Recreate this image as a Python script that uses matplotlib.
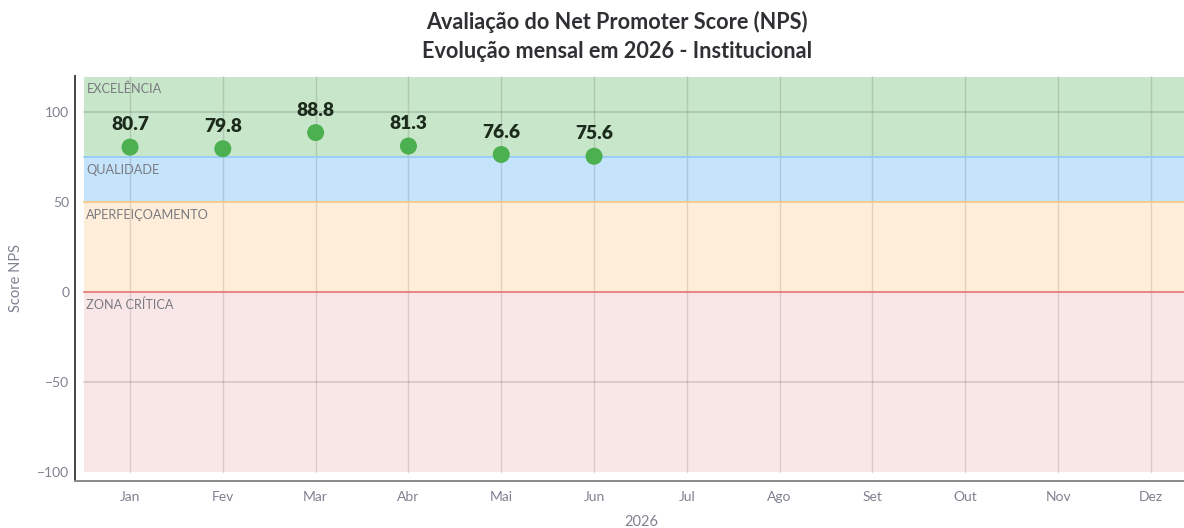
import matplotlib
matplotlib.use("Agg")
import matplotlib.pyplot as plt

plt.rcParams['font.family'] = ['Lato', 'DejaVu Sans']

months = ["Jan", "Fev", "Mar", "Abr", "Mai", "Jun", "Jul", "Ago", "Set", "Out", "Nov", "Dez"]
nps_months = ["Jan", "Fev", "Mar", "Abr", "Mai", "Jun"]
nps_values = [80.7, 79.8, 88.8, 81.3, 76.6, 75.6]

band_names = ["EXCELÊNCIA", "QUALIDADE", "APERFEIÇOAMENTO", "ZONA CRÍTICA"]
band_low = [75, 50, 0, -100]
band_high = [120, 75, 50, 0]
band_fill = ["#c8e6c9", "#c5e3fa", "#feeed9", "#f9e7e7"]
band_edge = ["#a5d6a7", "#90caf9", "#ffcc80", "#e57373"]

y_ticks = [-100, -50, 0, 50, 100]

fig = plt.figure(figsize=(11.84, 5.28), dpi=100)
ax = fig.add_axes([75/1184, 1-481/528, 1-75/1184 + 0.02, (481-76)/528])

xpos = list(range(len(months)))
x_lo, x_hi = -0.5, len(months) - 0.5
ax.set_xlim(-0.593, 11.357 + 0.02*1184/92.8)
ax.set_ylim(-105.2, 120.3)

for lo, hi, fc, ec, name in zip(band_low, band_high, band_fill, band_edge, band_names):
    ax.fill_between([x_lo, x_hi], lo, hi, color=fc, lw=0, zorder=1)
    if hi < 120:
        ax.plot([x_lo, x_hi], [hi, hi], color=ec, lw=1.2, zorder=2.5)
    ax.annotate(name, xy=(x_lo, hi), xytext=(2, -4.5), textcoords="offset points",
                ha="left", va="top", fontsize=9.2, color="#7a7a82", zorder=4)

# gridlines (only visible over bands)
for x in xpos:
    ax.plot([x, x], [-100, 120.3], color="black", alpha=0.12, lw=1.0, zorder=2)
for y in y_ticks:
    if y not in (0, -100):
        ax.plot([x_lo, x_hi], [y, y], color="black", alpha=0.13, lw=1.3, zorder=2)

xs = [months.index(m) for m in nps_months]
ax.scatter(xs, nps_values, s=150, color="#4caf50", edgecolors="none", zorder=5)
for x, v in zip(xs, nps_values):
    ax.annotate(f"{v:.1f}", xy=(x, v), xytext=(0, 10), textcoords="offset points",
                ha="center", va="bottom", fontsize=13.8, fontweight="heavy",
                color="#1c2b1c", zorder=6)

ax.set_xticks(xpos)
ax.set_xticklabels(months)
ax.set_yticks(y_ticks)
ax.set_yticklabels(["\u2212100", "\u221250", "0", "50", "100"])
ax.tick_params(axis="both", length=0, labelsize=10, colors="#7f8191")
ax.tick_params(axis="x", pad=7)
ax.tick_params(axis="y", pad=4)

for s in ["top", "right"]:
    ax.spines[s].set_visible(False)
ax.spines["left"].set_color("#444444")
ax.spines["left"].set_linewidth(1.4)
ax.spines["bottom"].set_color("#888888")
ax.spines["bottom"].set_linewidth(1.4)

ax.set_ylabel("Score NPS", fontsize=10.5, color="#7f8191", labelpad=10)
ax.set_xlabel("2026", fontsize=10.5, color="#7f8191", labelpad=9)

fig.text(617/1184, 1-22/528, "Avaliação do Net Promoter Score (NPS)", ha="center", va="center",
         fontsize=15.6, fontweight="bold", color="#2f3033")
fig.text(617/1184, 1-52/528, "Evolução mensal em 2026 - Institucional", ha="center", va="center",
         fontsize=15.6, fontweight="bold", color="#2f3033")

fig.savefig("out.png", dpi=100)
